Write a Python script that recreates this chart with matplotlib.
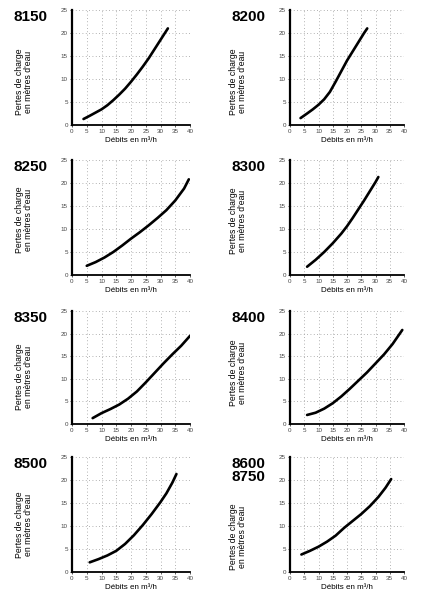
import matplotlib
matplotlib.use("Agg")
import matplotlib.pyplot as plt

plt.rcParams['font.family'] = ['Liberation Sans', 'DejaVu Sans']

titles = ["8150", "8200", "8250", "8300", "8350", "8400", "8500", "8600\n8750"]

x_8150 = [3.9, 6.0, 8.0, 10.0, 12.0, 14.0, 16.0, 18.0, 20.0, 22.0, 24.0, 26.0, 28.0, 30.0, 32.5]
y_8150 = [1.3, 2.0, 2.7, 3.4, 4.3, 5.4, 6.6, 7.9, 9.4, 11.0, 12.7, 14.5, 16.5, 18.5, 21.0]

x_8200 = [3.7, 6.0, 8.0, 10.0, 12.0, 14.0, 16.0, 18.0, 20.0, 22.0, 24.0, 26.0, 27.1]
y_8200 = [1.5, 2.5, 3.4, 4.4, 5.6, 7.2, 9.4, 11.7, 14.0, 16.0, 18.0, 20.0, 21.0]

x_8250 = [5.0, 8.0, 11.0, 14.0, 17.0, 20.0, 23.0, 26.0, 29.0, 32.0, 35.0, 38.0, 39.6]
y_8250 = [2.0, 2.8, 3.8, 5.0, 6.4, 7.9, 9.3, 10.8, 12.4, 14.1, 16.2, 18.8, 20.8]

x_8300 = [6.0, 9.0, 12.0, 15.0, 18.0, 20.0, 22.0, 24.0, 26.0, 28.0, 30.0, 31.0]
y_8300 = [1.8, 3.3, 5.0, 6.9, 9.0, 10.6, 12.4, 14.3, 16.2, 18.2, 20.2, 21.3]

x_8350 = [7.0, 10.0, 13.0, 16.0, 19.0, 22.0, 25.0, 28.0, 31.0, 34.0, 37.0, 40.0]
y_8350 = [1.3, 2.4, 3.3, 4.3, 5.6, 7.2, 9.2, 11.3, 13.4, 15.4, 17.3, 19.5]

x_8400 = [6.0, 9.0, 12.0, 15.0, 18.0, 21.0, 24.0, 27.0, 30.0, 33.0, 36.0, 39.4]
y_8400 = [2.0, 2.5, 3.4, 4.6, 6.1, 7.8, 9.6, 11.4, 13.4, 15.4, 17.7, 20.8]

x_8500 = [6.0, 9.0, 12.0, 15.0, 18.0, 21.0, 24.0, 27.0, 30.0, 32.0, 34.0, 35.4]
y_8500 = [2.1, 2.8, 3.6, 4.6, 6.1, 8.0, 10.2, 12.6, 15.2, 17.1, 19.4, 21.3]

x_8600 = [4.0, 7.0, 10.0, 13.0, 16.0, 19.0, 22.0, 25.0, 28.0, 31.0, 33.5, 35.5]
y_8600 = [3.8, 4.6, 5.5, 6.6, 7.9, 9.6, 11.1, 12.6, 14.3, 16.3, 18.3, 20.2]

series_x = [x_8150, x_8200, x_8250, x_8300, x_8350, x_8400, x_8500, x_8600]
series_y = [y_8150, y_8200, y_8250, y_8300, y_8350, y_8400, y_8500, y_8600]

xticks = [0, 5, 10, 15, 20, 25, 30, 35, 40]
yticks = [0, 5, 10, 15, 20, 25]
xtick_labels = ["0", "5", "10", "15", "20", "25", "30", "35", "40"]
ytick_labels = ["0", "5", "10", "15", "20", "25"]

ylabel_text = "Pertes de charge\nen mètres d'eau"
xlabel_text = "Débits en m³/h"

W, H = 422, 593
fig = plt.figure(figsize=(W / 100, H / 100), dpi=100)

col_lr = [(72, 190), (290, 404)]
row_tb = [(10, 125), (160, 275), (311, 424), (457, 572)]
ylabel_shift = [14, 14, 2, 3, 9, 5, 10, 22]

for i in range(8):
    r, c = divmod(i, 2)
    l, rr = col_lr[c]
    t, b = row_tb[r]
    ax = fig.add_axes([l / W, 1 - b / H, (rr - l) / W, (b - t) / H])
    ax.plot(series_x[i], series_y[i], color='black', lw=1.9,
            solid_capstyle='round', solid_joinstyle='round')
    ax.set_xlim(0, 40)
    ax.set_ylim(0, 25)
    ax.set_xticks(xticks)
    ax.set_xticklabels(xtick_labels)
    ax.set_yticks(yticks)
    ax.set_yticklabels(ytick_labels)
    ax.tick_params(labelsize=4.5, length=1.5, width=0.6, pad=1.5, colors='#444444')
    for s in ['top', 'right']:
        ax.spines[s].set_visible(False)
    ax.spines['left'].set_linewidth(1.6)
    ax.spines['bottom'].set_linewidth(1.3)
    ax.grid(True, linestyle=(0, (1, 3)), color='#999999', lw=0.6)
    ax.set_axisbelow(True)
    ax.set_xlabel(xlabel_text, fontsize=5.8, labelpad=2)
    # title
    tx = 13 if c == 0 else 231
    fig.text(tx / W, 1 - (t + 0) / H, titles[i], fontsize=11, fontweight='bold',
             ha='left', va='top', linespacing=0.95)
    # y label
    lx = 24 if c == 0 else 238
    ly = (t + b) / 2 + ylabel_shift[i]
    fig.text(lx / W, 1 - ly / H, ylabel_text, fontsize=6.2, rotation=90,
             ha='center', va='center', linespacing=1.1)

fig.savefig("out.png", dpi=100)
